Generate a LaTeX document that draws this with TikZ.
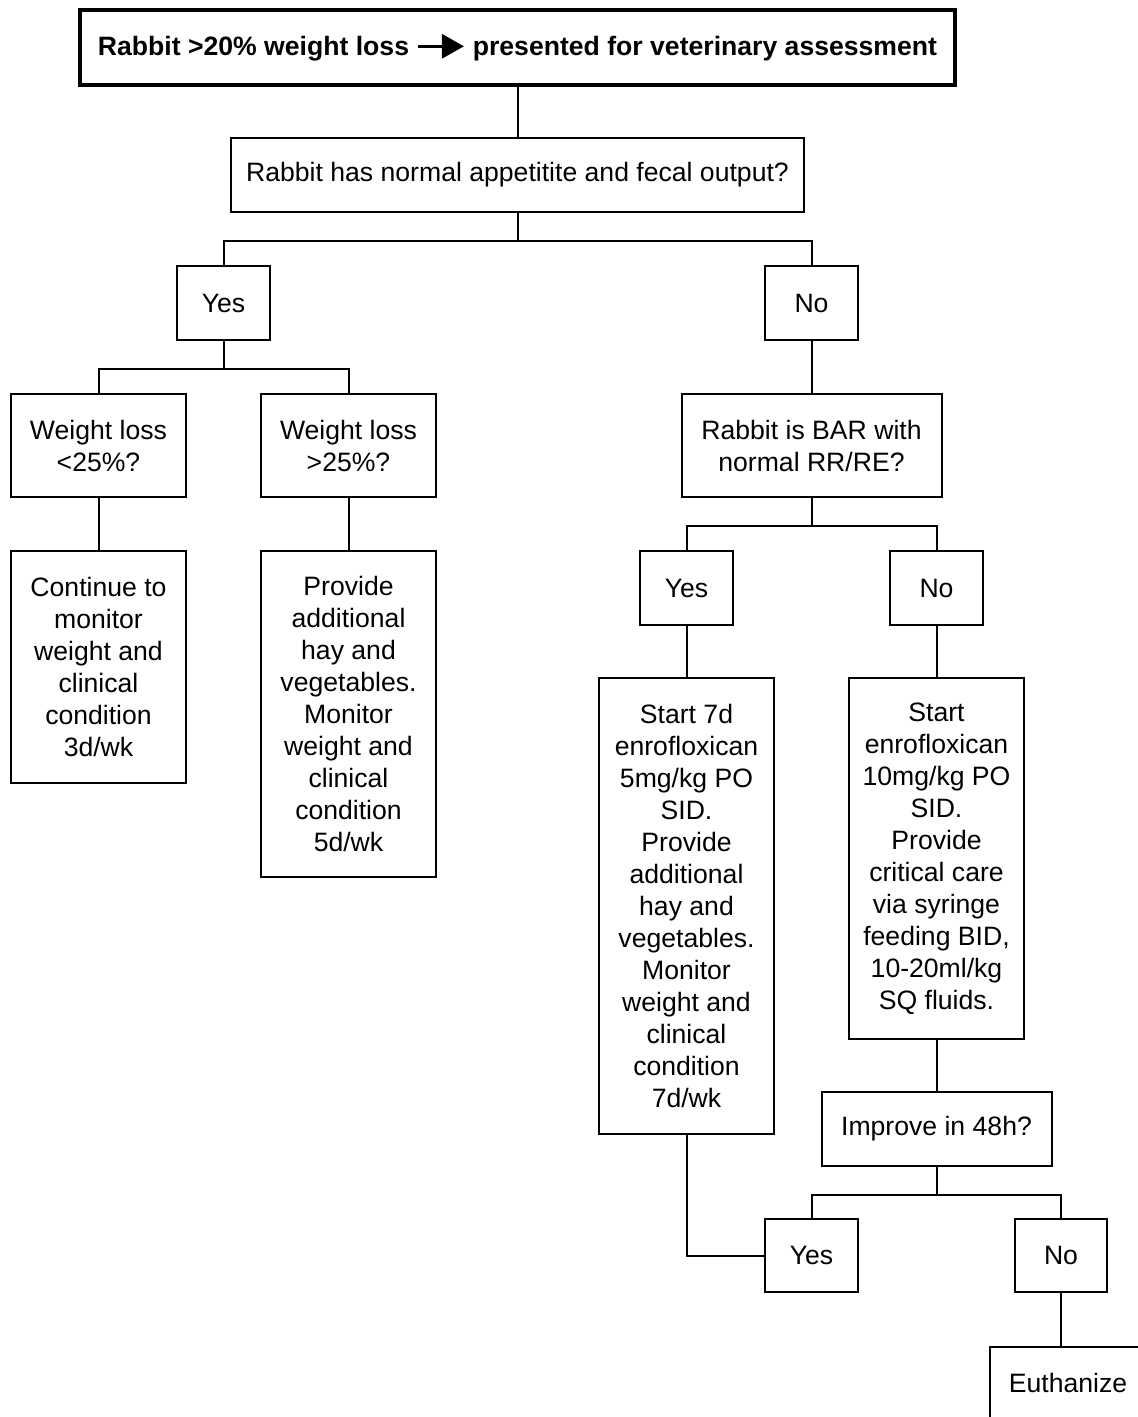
\documentclass[tikz,border=0pt]{standalone}
\usepackage{fontspec}
\setmainfont{Liberation Sans}
\usetikzlibrary{arrows.meta}
\newcommand{\bigarrow}{\tikz[baseline=-0.33em]\draw[line width=3pt,-{Triangle[length=22pt,width=24pt]}] (0,0) -- (46pt,0);}
\begin{document}
\begin{tikzpicture}[x=1pt,y=-1pt,
  box/.style={draw,line width=2pt,inner sep=0pt,align=center,
    font=\fontsize{26.6}{32}\selectfont},
  conn/.style={line width=2pt}]
\clip (0,0) rectangle (1138,1417);
\fill[white] (0,0) rectangle (1138,1417);
\node[box,line width=4pt,minimum width=875pt,minimum height=75pt,font=\fontsize{26.6}{32}\selectfont\bfseries] (top) at (517.5,47.5)
  {Rabbit >20\% weight loss \bigarrow\ presented for veterinary assessment};
\node[box,minimum width=573pt,minimum height=74pt] (q1) at (517.5,175) {Rabbit has normal appetitite and fecal output?};
\node[box,minimum width=93pt,minimum height=74pt] (yes1) at (223.5,303) {Yes};
\node[box,minimum width=93pt,minimum height=74pt] (no1) at (811.5,303) {No};
\node[box,minimum width=175pt,minimum height=103pt] (wl1) at (98.5,445.5) {Weight loss\\<25\%?};
\node[box,minimum width=175pt,minimum height=103pt] (wl2) at (348.5,445.5) {Weight loss\\>25\%?};
\node[box,minimum width=175pt,minimum height=232pt] (cont) at (98.5,667) {Continue to\\monitor\\weight and\\clinical\\condition\\3d/wk};
\node[box,minimum width=175pt,minimum height=326pt] (prov) at (348.5,714) {Provide\\additional\\hay and\\vegetables.\\Monitor\\weight and\\clinical\\condition\\5d/wk};
\node[box,minimum width=260pt,minimum height=103pt] (bar) at (811.5,445.5) {Rabbit is BAR with\\normal RR/RE?};
\node[box,minimum width=93pt,minimum height=74pt] (yes2) at (686.5,588) {Yes};
\node[box,minimum width=93pt,minimum height=74pt] (no2) at (936.5,588) {No};
\node[box,minimum width=175pt,minimum height=456pt] (s7) at (686.5,906) {Start 7d\\enrofloxican\\5mg/kg PO\\SID.\\Provide\\additional\\hay and\\vegetables.\\Monitor\\weight and\\clinical\\condition\\7d/wk};
\node[box,minimum width=175pt,minimum height=361pt] (s10) at (936.5,858.5) {Start\\enrofloxican\\10mg/kg PO\\SID.\\Provide\\critical care\\via syringe\\feeding BID,\\10-20ml/kg\\SQ fluids.};
\node[box,minimum width=230pt,minimum height=74pt] (imp) at (936.5,1129) {Improve in 48h?};
\node[box,minimum width=93pt,minimum height=73pt] (yes3) at (811.5,1255.5) {Yes};
\node[box,minimum width=92pt,minimum height=73pt] (no3) at (1061,1255.5) {No};
\node[box,minimum width=156pt,minimum height=71pt] (euth) at (1068,1382.5) {Euthanize};
% connectors
\draw[conn] (top.south) -- (q1.north);
\draw[conn] (q1.south) -- ++(0,28) -| (yes1.north);
\draw[conn] (q1.south) -- ++(0,28) -| (no1.north);
\draw[conn] (yes1.south) -- ++(0,28) -| (wl1.north);
\draw[conn] (yes1.south) -- ++(0,28) -| (wl2.north);
\draw[conn] (wl1.south) -- (cont.north);
\draw[conn] (wl2.south) -- (prov.north);
\draw[conn] (no1.south) -- (bar.north);
\draw[conn] (bar.south) -- ++(0,28) -| (yes2.north);
\draw[conn] (bar.south) -- ++(0,28) -| (no2.north);
\draw[conn] (yes2.south) -- (s7.north);
\draw[conn] (no2.south) -- (s10.north);
\draw[conn] (s10.south) -- (imp.north);
\draw[conn] (imp.south) -- ++(0,28) -| (yes3.north);
\draw[conn] (imp.south) -- ++(0,28) -| (no3.north);
\draw[conn] (s7.south) |- (yes3.west);
\draw[conn] (no3.south) -- (no3.south |- euth.north);
\end{tikzpicture}
\end{document}
